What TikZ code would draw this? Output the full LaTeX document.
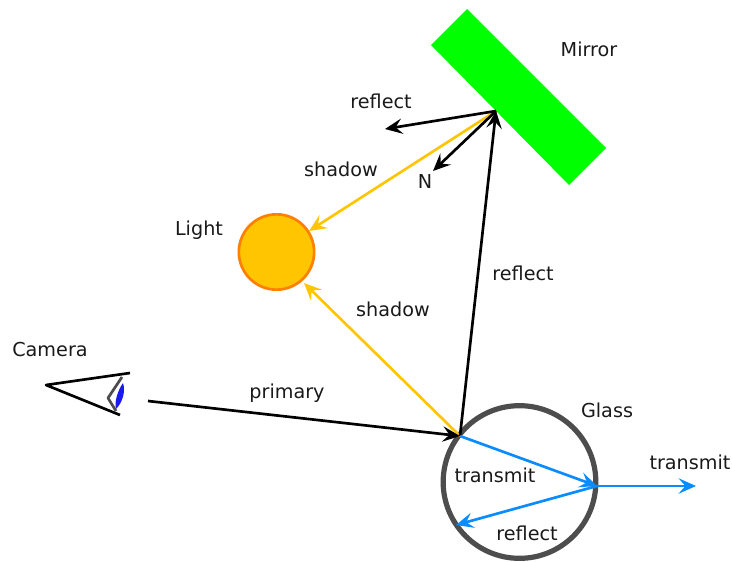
\documentclass[tikz,border=0pt]{standalone}
\usepackage{fontspec}
\setmainfont{DejaVu Sans}
\usetikzlibrary{arrows.meta}
\definecolor{sunfill}{HTML}{FFC600}
\definecolor{sunline}{HTML}{FF7F00}
\definecolor{rayblue}{HTML}{0A8CFF}
\definecolor{glassgray}{HTML}{4D4D4D}
\definecolor{lensblue}{HTML}{1A1AF0}
\tikzset{
	ray/.style={line width=2pt, -{Stealth[length=13pt, width=11.5pt, inset=5pt]}},
	blackray/.style={ray, black},
	shadowray/.style={ray, sunfill},
	blueray/.style={ray, rayblue},
	label/.style={inner sep=0pt, font=\fontsize{14.4}{17}\selectfont, text=black!90}
}
\begin{document}
\begin{tikzpicture}[line join=round, x=0.75pt, y=-0.75pt]
	\useasboundingbox (0,0) rectangle (732,561);
	\coordinate (M1) at (467,9);
	\coordinate (M2) at (606,148);
	\coordinate (M3) at (569,185);
	\coordinate (M4) at (431,45);
	\coordinate (hitMirror) at (496,111);
	\coordinate (hitGlass) at (460,436);
	\coordinate (exitGlass) at (597,486);
	\coordinate (backGlass) at (456,525);
	\coordinate (rayStart) at (148,401);
	\coordinate (reflectEnd) at (385,129);
	\coordinate (normalEnd) at (433,171);
	\coordinate (transmitEnd) at (696,486);
	\coordinate (lightA) at (309,231);
	\coordinate (lightB) at (304,283);
	\coordinate (eye) at (46,385);
	\coordinate (camTop) at (130,373);
	\coordinate (camBot) at (120,415);
	\coordinate (irisA) at (122,377);
	\coordinate (irisB) at (108,398);
	\coordinate (irisC) at (116,411);
	\coordinate (lensA) at (123,383);
	\coordinate (lensB) at (116,409);
	% objects
	\fill[green] (M1) -- (M2) -- (M3) -- (M4) -- cycle;
	\node[circle, draw=sunline, fill=sunfill, line width=2pt, minimum size=56.5pt, inner sep=0pt] (light) at (276.5,252) {};
	\node[circle, draw=glassgray, line width=3.9pt, minimum size=114.5pt, inner sep=0pt] (glass) at (519.5,482) {};
	% camera
	\draw[line width=2pt] (camTop) -- (eye) -- (camBot);
	\draw[glassgray, line width=2pt] (irisA) -- (irisB) -- (irisC);
	\fill[lensblue] (lensA) .. controls (126,392) and (122,403) .. (lensB) .. controls (114,402) and (118,390) .. (lensA);
	% rays
	\draw[shadowray] (hitGlass) -- (lightB);
	\draw[shadowray] (hitMirror) -- (lightA);
	\draw[blackray] (rayStart) -- (hitGlass);
	\draw[blackray] (hitGlass) -- (hitMirror);
	\draw[blackray] (hitMirror) -- (reflectEnd);
	\draw[blackray] (hitMirror) -- (normalEnd);
	\draw[blueray] (hitGlass) -- (exitGlass);
	\draw[blueray] (exitGlass) -- (backGlass);
	\draw[blueray] (exitGlass) -- (transmitEnd);
	% labels
	\node[label] (mirrorText) at (589,49) {Mirror};
	\node[label] (reflectTop) at (381,101) {reflect};
	\node[label] (shadowTop) at (341,169) {shadow};
	\node[label] (normalText) at (425,181) {N};
	\node[label] (lightText) at (199,230) {Light};
	\node[label] (reflectMid) at (523,273) {reflect};
	\node[label] (shadowLow) at (393,309) {shadow};
	\node[label] (cameraText) at (50,350) {Camera};
	\node[label] (primaryText) at (287,393) {primary};
	\node[label] (glassText) at (607,410) {Glass};
	\node[label] (transmitIn) at (495,475) {transmit};
	\node[label] (transmitOut) at (690,462) {transmit};
	\node[label] (reflectLow) at (527,533) {reflect};
\end{tikzpicture}
\end{document}
